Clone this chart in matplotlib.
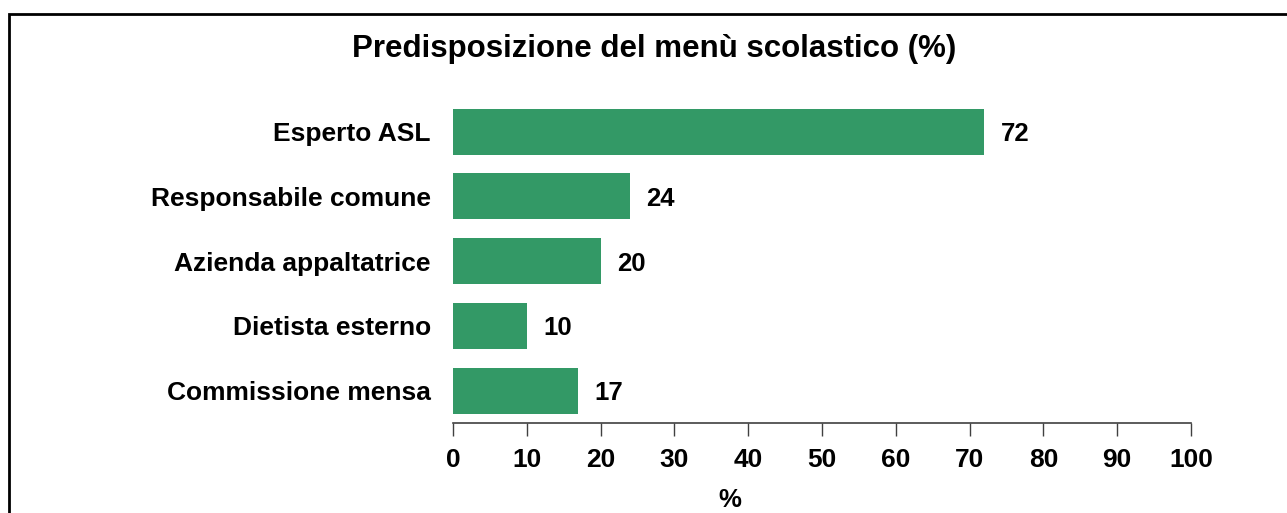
import matplotlib.pyplot as plt
from matplotlib.patches import Rectangle

plt.rcParams['font.family'] = ['Liberation Sans', 'DejaVu Sans']
plt.rcParams['font.weight'] = 'bold'

# data
categories = ['Esperto ASL', 'Responsabile comune', 'Azienda appaltatrice',
              'Dietista esterno', 'Commissione mensa']
values = [72, 24, 20, 10, 17]
xticks = [0, 10, 20, 30, 40, 50, 60, 70, 80, 90, 100]

fig = plt.figure(figsize=(12.87, 5.13), dpi=100)
ax = fig.add_axes([453/1287, 1-423/513, (1191-453)/1287, (423-100)/513])

ypos = list(range(len(categories)))
ax.barh(ypos, values, height=0.71, color='#339966')
for y, v in zip(ypos, values):
    ax.text(v + 2.2, y + 0.04, str(v), va='center', ha='left', fontsize=18.5, fontweight='bold')

ax.set_ylim(len(categories) - 0.5, -0.49)
ax.set_xlim(0, 100)
ax.set_yticks(ypos)
ax.set_yticklabels(categories, fontsize=19, fontweight='bold')
for lab in ax.get_yticklabels():
    lab.set_y(lab.get_position()[1])
ax.tick_params(axis='y', length=0, pad=16)
ax.set_xticks(xticks)
ax.set_xticklabels([str(t) for t in xticks], fontsize=19, fontweight='bold')
ax.tick_params(axis='x', length=9, width=1, color='#404040', pad=9, direction='out')
for s in ['top', 'right', 'left']:
    ax.spines[s].set_visible(False)
ax.spines['bottom'].set_color('#404040')
ax.spines['bottom'].set_linewidth(1.2)

# axis title sits left of the axis centre in the reference
fig.text(730/1287, 1-500/513, '%', ha='center', va='center',
         fontsize=18.5, fontweight='bold')

fig.text(654/1287, 1-49/513, 'Predisposizione del menù scolastico (%)',
         ha='center', va='center', fontsize=22.5, fontweight='bold')

# frame around the chart, running off the right and bottom edges
fig.patches.append(Rectangle((8.5/1287, -0.1), 1.2, 1 - 13.5/513 + 0.1,
                             transform=fig.transFigure, fill=False,
                             edgecolor='black', linewidth=2))

fig.savefig('out.png', dpi=100)
